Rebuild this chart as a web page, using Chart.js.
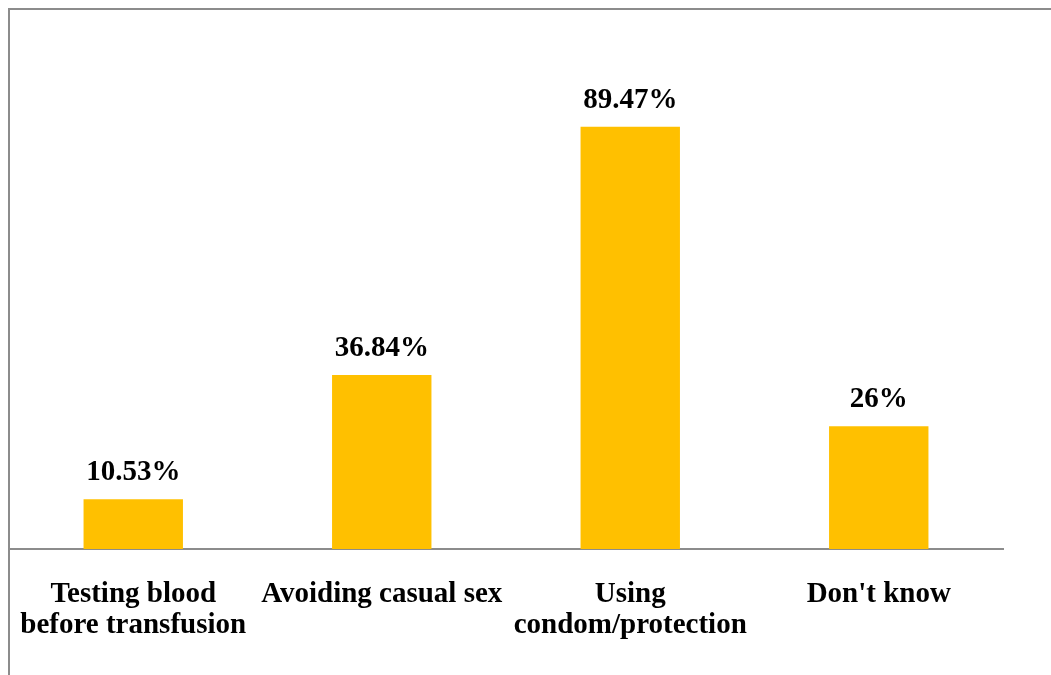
<!DOCTYPE html>
<html>
<head>
<meta charset="utf-8">
<script src="https://cdn.jsdelivr.net/npm/chart.js@4/dist/chart.umd.min.js"></script>
<style>
  html, body { margin: 0; padding: 0; background: #ffffff; }
  #wrap { position: relative; width: 1051px; height: 675px; }
</style>
</head>
<body>
<div id="wrap"><canvas id="chart" width="1051" height="675"></canvas></div>
<script>
// Prevention methods named by respondents (percent)
const categories = [
  ["Testing blood", "before transfusion"],
  "Avoiding casual sex",
  ["Using", "condom/protection"],
  "Don't know"
];
const percentages = [10.53, 36.84, 89.47, 26];
const valueLabels = ["10.53%", "36.84%", "89.47%", "26%"];

const serifBold = { family: "'Liberation Serif', 'Times New Roman', serif", weight: 'bold', size: 29, lineHeight: 1.07 };

// Outer frame: left and top edges of the plot box
const framePlugin = {
  id: 'frame',
  beforeDraw(chart) {
    const ctx = chart.ctx;
    ctx.save();
    ctx.strokeStyle = '#8c8c8c';
    ctx.lineWidth = 2;
    ctx.beginPath();
    ctx.moveTo(9, chart.height);
    ctx.lineTo(9, 9);
    ctx.lineTo(chart.width, 9);
    ctx.stroke();
    ctx.restore();
  }
};

// Value labels above each bar
const valueLabelPlugin = {
  id: 'valueLabels',
  afterDatasetsDraw(chart) {
    const ctx = chart.ctx;
    const meta = chart.getDatasetMeta(0);
    ctx.save();
    ctx.fillStyle = '#000000';
    ctx.font = "bold 29px 'Liberation Serif', 'Times New Roman', serif";
    ctx.textAlign = 'center';
    ctx.textBaseline = 'alphabetic';
    meta.data.forEach((bar, i) => {
      ctx.fillText(valueLabels[i], bar.x, bar.y - 19);
    });
    ctx.restore();
  }
};

new Chart(document.getElementById('chart'), {
  type: 'bar',
  data: {
    labels: categories,
    datasets: [{
      data: percentages,
      backgroundColor: '#FFC000',
      borderWidth: 0,
      barPercentage: 0.4,
      categoryPercentage: 1.0
    }]
  },
  options: {
    responsive: false,
    animation: false,
    layout: { padding: { left: 9, right: 48, top: 77, bottom: 0 } },
    plugins: { legend: { display: false }, tooltip: { enabled: false } },
    scales: {
      x: {
        grid: { display: false, drawTicks: false },
        border: { display: true, color: '#8c8c8c', width: 2 },
        ticks: {
          color: '#000000',
          font: serifBold,
          padding: 30,
          maxRotation: 0,
          autoSkip: false
        },
        afterFit(scale) {
          scale.height = 126;
          scale.paddingLeft = 0;
          scale.paddingRight = 0;
        }
      },
      y: {
        display: false,
        min: 0,
        max: 100
      }
    }
  },
  plugins: [framePlugin, valueLabelPlugin]
});
</script>
</body>
</html>
